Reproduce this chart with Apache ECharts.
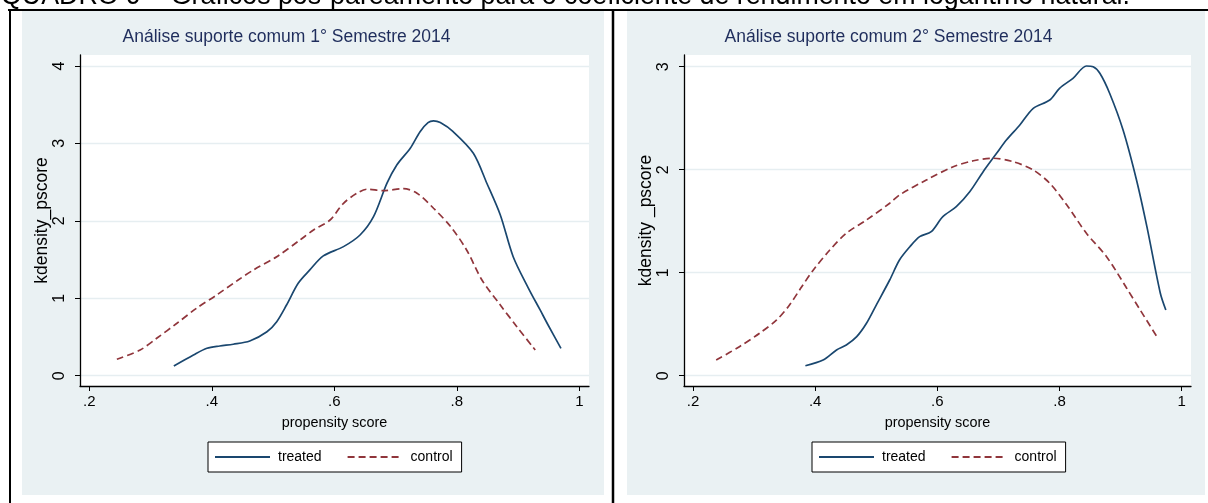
<!DOCTYPE html>
<html>
<head>
<meta charset="utf-8">
<script src="https://cdn.jsdelivr.net/npm/echarts@6.0.0/dist/echarts.min.js"></script>
<style>
    html, body { margin: 0; padding: 0; background: #fff; }
    #chart { width: 1208px; height: 503px; }
</style>
</head>
<body>
<div id="chart"></div>
<script>
    // 1° semestre
    let s1TreatedX = [0.338, 0.370, 0.392, 0.413, 0.435, 0.462, 0.490, 0.506, 0.522, 0.541, 0.560, 0.582, 0.615, 0.642, 0.664, 0.686, 0.702, 0.724, 0.740, 0.753, 0.762, 0.773, 0.794, 0.827, 0.849, 0.871, 0.892, 0.917, 0.936, 0.949, 0.970];
    let s1TreatedY = [0.125, 0.267, 0.354, 0.384, 0.406, 0.448, 0.568, 0.698, 0.913, 1.194, 1.366, 1.547, 1.667, 1.817, 2.054, 2.486, 2.722, 2.938, 3.152, 3.269, 3.291, 3.269, 3.152, 2.873, 2.486, 2.076, 1.537, 1.129, 0.849, 0.655, 0.354];
    let s1ControlX = [0.245, 0.283, 0.310, 0.343, 0.375, 0.408, 0.443, 0.468, 0.506, 0.544, 0.566, 0.593, 0.615, 0.637, 0.653, 0.680, 0.713, 0.735, 0.762, 0.790, 0.816, 0.841, 0.871, 0.898, 0.928];
    let s1ControlY = [0.212, 0.332, 0.483, 0.677, 0.871, 1.043, 1.236, 1.366, 1.537, 1.753, 1.882, 2.011, 2.227, 2.357, 2.408, 2.390, 2.416, 2.357, 2.163, 1.925, 1.624, 1.236, 0.913, 0.633, 0.332];

    // 2° semestre
    let s2TreatedX = [0.384, 0.413, 0.435, 0.451, 0.468, 0.484, 0.500, 0.522, 0.538, 0.555, 0.571, 0.590, 0.609, 0.631, 0.653, 0.675, 0.697, 0.713, 0.735, 0.757, 0.784, 0.800, 0.822, 0.844, 0.855, 0.866, 0.882, 0.904, 0.926, 0.943, 0.965, 0.974];
    let s2TreatedY = [0.097, 0.152, 0.250, 0.298, 0.379, 0.509, 0.686, 0.929, 1.123, 1.252, 1.350, 1.398, 1.544, 1.641, 1.786, 1.981, 2.159, 2.288, 2.434, 2.596, 2.677, 2.790, 2.887, 3.007, 3.000, 2.936, 2.742, 2.385, 1.900, 1.447, 0.800, 0.638];
    let s2ControlX = [0.238, 0.276, 0.309, 0.337, 0.358, 0.378, 0.397, 0.424, 0.451, 0.484, 0.522, 0.538, 0.582, 0.626, 0.659, 0.691, 0.724, 0.757, 0.784, 0.812, 0.844, 0.877, 0.910, 0.932, 0.960];
    let s2ControlY = [0.152, 0.282, 0.412, 0.541, 0.686, 0.864, 1.026, 1.220, 1.383, 1.512, 1.674, 1.754, 1.900, 2.029, 2.087, 2.111, 2.078, 1.997, 1.868, 1.657, 1.383, 1.155, 0.849, 0.638, 0.373];

    // ticks
    let xTicks = [0.2, 0.4, 0.6, 0.8, 1];
    let xTickLabels = ['.2', '.4', '.6', '.8', '1'];
    let y1Ticks = [0, 1, 2, 3, 4];
    let y2Ticks = [0, 1, 2, 3];

    let titles = ['Análise suporte comum 1° Semestre 2014', 'Análise suporte comum 2° Semestre 2014'];
    let yNames = ['kdensity_pscore', 'kdensity _pscore'];
    let xName = 'propensity score';
    let seriesNames = ['treated', 'control'];
    let heading = 'QUADRO 9 – Gráficos pós-pareamento para o coeficiente de rendimento em logaritmo natural.';

    const FONT = '"Liberation Sans", Arial, sans-serif';
    const NAVY = '#1a476f';
    const MAROON = '#90353b';

    function pairs(xs, ys) {
        return xs.map((x, i) => [x, ys[i]]);
    }

    function xAxis(gridIndex, min, max) {
        return {
            type: 'value',
            gridIndex: gridIndex,
            min: min,
            max: max,
            name: xName,
            nameLocation: 'middle',
            nameGap: 30,
            nameTextStyle: { color: '#000', fontSize: 14.4, fontFamily: FONT },
            axisLine: { show: true, onZero: false, lineStyle: { color: '#000', width: 1.3 } },
            axisTick: { show: true, length: 5, customValues: xTicks, lineStyle: { color: '#000', width: 1 } },
            axisLabel: {
                customValues: xTicks,
                margin: 8,
                color: '#000',
                fontSize: 15,
                fontFamily: FONT,
                formatter: v => xTickLabels[xTicks.findIndex(t => Math.abs(t - v) < 1e-6)]
            },
            splitLine: { show: false }
        };
    }

    function yAxis(gridIndex, min, max, ticks) {
        return {
            type: 'value',
            gridIndex: gridIndex,
            min: min,
            max: max,
            name: yNames[gridIndex],
            nameLocation: 'middle',
            nameRotate: 90,
            nameGap: 23,
            nameTextStyle: { color: '#000', fontSize: 17.5, fontFamily: FONT },
            axisLine: { show: true, onZero: false, lineStyle: { color: '#000', width: 1.3 } },
            axisTick: { show: true, length: 5, customValues: ticks, lineStyle: { color: '#000', width: 1 } },
            axisLabel: {
                customValues: ticks,
                rotate: 90,
                margin: 12,
                color: '#000',
                fontSize: 16,
                fontFamily: FONT
            },
            splitLine: { show: true, lineStyle: { color: '#e6eef1', width: 1.3 } }
        };
    }

    function line(name, idx, data, color, dashed) {
        return {
            name: name,
            type: 'line',
            xAxisIndex: idx,
            yAxisIndex: idx,
            data: data,
            symbol: 'none',
            smooth: 0.3,
            itemStyle: { color: color },
            lineStyle: { color: color, width: 1.7, type: dashed ? [7, 4] : 'solid' }
        };
    }

    function legend(left) {
        return {
            data: seriesNames,
            left: left,
            top: 442,
            orient: 'horizontal',
            itemWidth: 55,
            itemHeight: 14,
            itemGap: 25,
            padding: [8, 9, 8, 6],
            backgroundColor: '#fff',
            borderColor: '#000',
            borderWidth: 1,
            selectedMode: false,
            itemStyle: { opacity: 0 },
            textStyle: { color: '#000', fontSize: 14, fontFamily: FONT, padding: [0, 0, 0, 3] }
        };
    }

    function titleText(x, text) {
        return {
            type: 'text',
            x: x,
            y: 37,
            z: 10,
            style: { text: text, align: 'center', verticalAlign: 'middle', fontSize: 17.5, fontFamily: FONT, fill: '#1f2d5c' }
        };
    }

    let myChart = echarts.init(document.getElementById('chart'));
    let option = {
        animation: false,
        backgroundColor: '#fff',
        graphic: [
            { type: 'rect', z: -10, shape: { x: 22, y: 11, width: 582, height: 484 }, style: { fill: '#eaf1f3' } },
            { type: 'rect', z: -10, shape: { x: 627, y: 11, width: 578, height: 484 }, style: { fill: '#eaf1f3' } },
            {
                type: 'text', x: 1, y: -3.5, z: 5,
                style: { text: heading, verticalAlign: 'middle', fontSize: 26.8, fontFamily: FONT, fill: '#000' }
            },
            { type: 'line', z: 20, shape: { x1: 8, y1: 10, x2: 1208, y2: 10 }, style: { stroke: '#000', lineWidth: 2 } },
            { type: 'line', z: 20, shape: { x1: 10, y1: 9, x2: 10, y2: 503 }, style: { stroke: '#000', lineWidth: 2 } },
            { type: 'line', z: 20, shape: { x1: 613, y1: 9, x2: 613, y2: 503 }, style: { stroke: '#000', lineWidth: 2.5 } },
            titleText(286.5, titles[0]),
            titleText(888.5, titles[1])
        ],
        grid: [
            { left: 80, top: 55, width: 509, height: 331, show: true, backgroundColor: '#fff', borderWidth: 0 },
            { left: 684, top: 55, width: 507, height: 331, show: true, backgroundColor: '#fff', borderWidth: 0 }
        ],
        legend: [legend(208), legend(812)],
        xAxis: [xAxis(0, 0.1848, 1.0158), xAxis(1, 0.1853, 1.0152)],
        yAxis: [yAxis(0, -0.133, 4.142, y1Ticks), yAxis(1, -0.1, 3.1136, y2Ticks)],
        series: [
            line(seriesNames[0], 0, pairs(s1TreatedX, s1TreatedY), NAVY, false),
            line(seriesNames[1], 0, pairs(s1ControlX, s1ControlY), MAROON, true),
            line(seriesNames[0], 1, pairs(s2TreatedX, s2TreatedY), NAVY, false),
            line(seriesNames[1], 1, pairs(s2ControlX, s2ControlY), MAROON, true)
        ]
    };
    myChart.setOption(option);
</script>
</body>
</html>
